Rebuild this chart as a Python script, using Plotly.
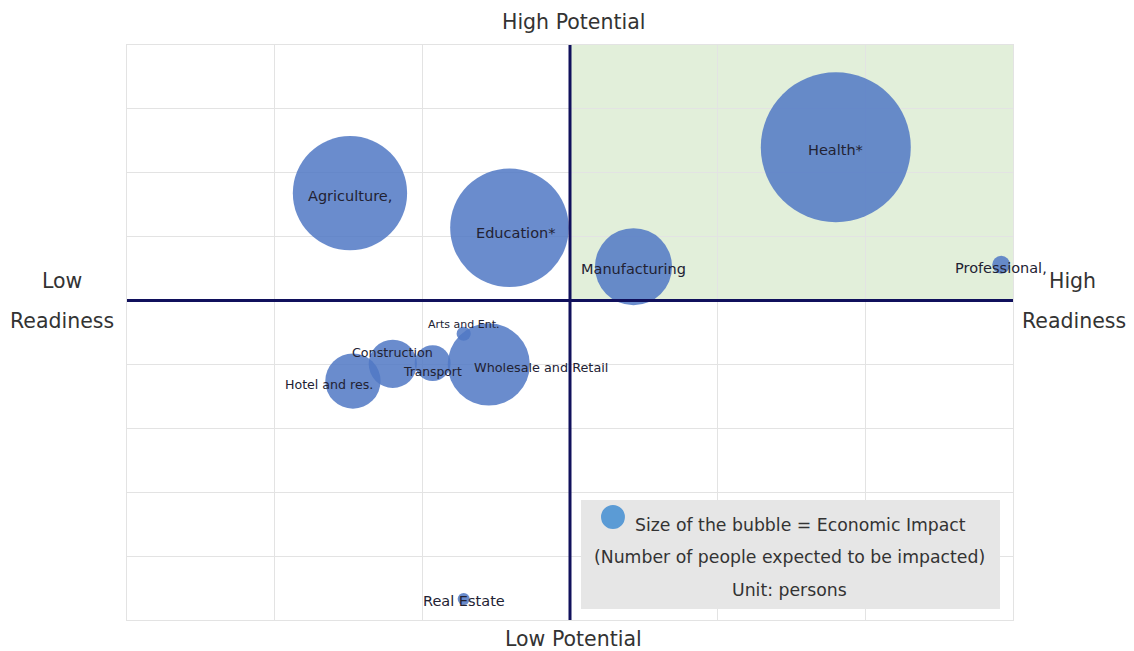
import plotly.graph_objects as go

# ---- data ----
sectors = ["Health*", "Agriculture,", "Education*", "Manufacturing", "Professional,",
           "Arts and Ent.", "Construction", "Transport", "Wholesale and Retail",
           "Hotel and res.", "Real Estate"]
readiness = [1.80, -1.49, -0.41, 0.43, 2.92, -0.72, -1.20, -0.93, -0.55, -1.47, -0.72]
potential = [2.40, 1.68, 1.14, 0.53, 0.56, -0.52, -0.99, -0.98, -1.00, -1.26, -4.67]
impact = [560000, 325000, 350000, 148000, 8000, 5000, 58000, 32000, 168000, 76000, 3600]

# label styling (font size, x shift px, y shift px, anchor)
label_size = [14.5, 14.5, 14.5, 14.5, 14.5, 11, 12.7, 12.3, 12.8, 12.6, 14.5]
label_dx = [0, 0, 6, 0, 0, 0, 0, 0, -17, -24, 0]
label_dy = [-3, -3, -5, -2, -3, 9, 11, -9, -3, -3, -2]
label_anchor = ["center"] * 8 + ["left", "center", "center"]

FONT = "DejaVu Sans"
NAVY = "#10105c"

fig = go.Figure()

# green high/high quadrant
fig.add_shape(type="rect", xref="x", yref="y", x0=0, x1=3, y0=0, y1=4,
              fillcolor="#e2efda", line=dict(width=0), layer="below")

max_d = 150
fig.add_trace(go.Scatter(
    x=readiness, y=potential, mode="markers",
    marker=dict(size=impact, sizemode="area", sizeref=2 * max(impact) / max_d ** 2,
                color="rgb(80,120,196)", opacity=0.85, line=dict(width=0)),
    cliponaxis=False, hoverinfo="text", text=sectors, showlegend=False))

# thick quadrant axes
fig.add_shape(type="line", xref="x", yref="y", x0=-3.01, x1=3, y0=0, y1=0,
              line=dict(color=NAVY, width=3))
fig.add_shape(type="line", xref="x", yref="y", x0=0, x1=0, y0=-5, y1=4,
              line=dict(color=NAVY, width=3))

for s, xv, yv, fs, dx, dy, anc in zip(sectors, readiness, potential, label_size,
                                       label_dx, label_dy, label_anchor):
    fig.add_annotation(x=xv, y=yv, text=s, showarrow=False, xanchor=anc,
                       yanchor="middle", xshift=dx, yshift=dy,
                       font=dict(family=FONT, size=fs, color="#222233"))

# outer axis titles
outer = [("High Potential", 0.5034, 1.040), ("Low Potential", 0.5034, -0.0330),
         ("Low", -0.0734, 0.5896), ("Readiness", -0.0734, 0.5200),
         ("High", 1.0677, 0.5896), ("Readiness", 1.0688, 0.5200)]
for t, px, py in outer:
    fig.add_annotation(xref="paper", yref="paper", x=px, y=py, text=t, showarrow=False,
                       xanchor="center", yanchor="middle",
                       font=dict(family=FONT, size=20.5, color="#333333"))

# size legend box
fig.add_shape(type="rect", xref="paper", yref="paper", x0=0.5124, x1=0.9853,
              y0=0.0191, y1=0.2087, fillcolor="#e6e6e6", line=dict(width=0))
fig.add_shape(type="circle", xref="paper", yref="paper", x0=0.5485 - 0.0135,
              x1=0.5485 + 0.0135, y0=0.1791 - 0.0209, y1=0.1791 + 0.0209,
              fillcolor="#5b9bd5", line=dict(width=0))
legend_lines = [("Size of the bubble = Economic Impact", 0.7596, 0.1652),
                ("(Number of people expected to be impacted)", 0.7483, 0.1096),
                ("Unit: persons", 0.7483, 0.0522)]
for t, px, py in legend_lines:
    fig.add_annotation(xref="paper", yref="paper", x=px, y=py, text=t, showarrow=False,
                       xanchor="center", yanchor="middle",
                       font=dict(family=FONT, size=17.3, color="#333333"))

fig.update_xaxes(range=[-3, 3], dtick=1, tick0=0, showgrid=True, gridcolor="#e3e3e3",
                 gridwidth=1, zeroline=False, showticklabels=False, ticks="",
                 showline=True, linecolor="#e3e3e3", mirror=True, fixedrange=True)
fig.update_yaxes(range=[-5, 4], dtick=1, tick0=0, showgrid=True, gridcolor="#e3e3e3",
                 gridwidth=1, zeroline=False, showticklabels=False, ticks="",
                 showline=True, linecolor="#e3e3e3", mirror=True, fixedrange=True)

fig.update_layout(width=1134, height=651, margin=dict(l=127, r=121, t=45, b=31),
                  paper_bgcolor="white", plot_bgcolor="white", showlegend=False)

fig.write_html("out.html")
